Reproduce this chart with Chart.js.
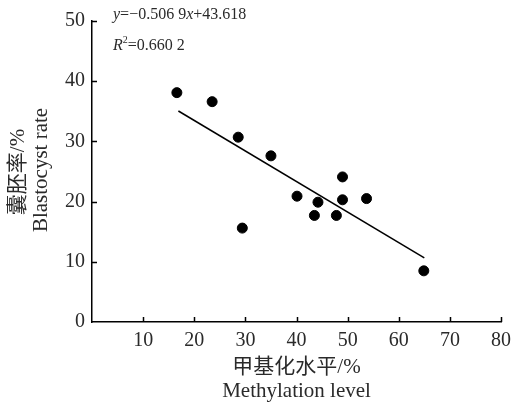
<!DOCTYPE html>
<html>
<head>
<meta charset="utf-8">
<script src="https://cdn.jsdelivr.net/npm/chart.js@4.4.1/dist/chart.umd.min.js"></script>
<style>
  html, body { margin: 0; padding: 0; background: #fff; }
  #wrap { width: 518px; height: 410px; }
</style>
</head>
<body>
<div id="wrap"><canvas id="mycanvas" width="518" height="410"></canvas></div>
<script>
// methylation level (%) vs blastocyst rate (%)
var methylation = [16.6, 23.5, 28.6, 29.4, 35.0, 40.1, 44.2, 43.5, 47.8, 49.0, 49.0, 53.7, 64.9];
var blastocyst  = [38.1, 36.6, 30.7, 15.6, 27.6, 20.9, 19.9, 17.7, 17.7, 24.1, 20.3, 20.5, 8.5];
var slope = -0.5069;
var intercept = 43.618;
var fitRange = [16.9, 65.0];
var xTicks = [10, 20, 30, 40, 50, 60, 70, 80];
var yTicks = [0, 10, 20, 30, 40, 50];

var serif = "'Liberation Serif', 'Noto Sans CJK SC', serif";

var points = [];
for (var i in methylation) {
	points.push({x: methylation[i], y: blastocyst[i]});
}
var fitLine = [
	{x: fitRange[0], y: slope * fitRange[0] + intercept},
	{x: fitRange[1], y: slope * fitRange[1] + intercept}
];

// inward tick marks, axis titles and the regression equation
var extras = {
	id: 'extras',
	afterDraw: function(chart) {
		var c = chart.ctx, a = chart.chartArea;
		var xs = chart.scales.x, ys = chart.scales.y;
		c.save();
		c.strokeStyle = '#000';
		c.lineWidth = 1.5;
		c.beginPath();
		xTicks.forEach(function(v) {
			var px = Math.round(xs.getPixelForValue(v)) + 0.5;
			c.moveTo(px, a.bottom);
			c.lineTo(px, a.bottom - 5);
		});
		yTicks.forEach(function(v) {
			if (v === 0) return;
			var py = Math.round(ys.getPixelForValue(v)) + 0.5;
			c.moveTo(a.left, py);
			c.lineTo(a.left + 5, py);
		});
		c.stroke();

		c.fillStyle = '#2a2a2a';
		c.textAlign = 'center';
		c.textBaseline = 'middle';
		var cx = (a.left + a.right) / 2;
		c.font = '21px ' + serif;
		c.fillText('甲基化水平/%', cx, 367);
		c.fillText('Methylation level', cx, 391);

		c.save();
		c.translate(18, 172);
		c.rotate(-Math.PI / 2);
		c.fillText('囊胚率/%', 0, 0);
		c.restore();
		c.save();
		c.translate(41, 170);
		c.rotate(-Math.PI / 2);
		c.fillText('Blastocyst rate', 0, 0);
		c.restore();

		// equation text, italic variables
		c.textAlign = 'left';
		c.textBaseline = 'alphabetic';
		var x0 = 113, parts = [
			['italic', 'y'], ['normal', '=\u22120.506 9'], ['italic', 'x'], ['normal', '+43.618']
		];
		parts.forEach(function(p) {
			c.font = p[0] + ' 16px ' + serif;
			c.fillText(p[1], x0, 19);
			x0 += c.measureText(p[1]).width;
		});
		x0 = 113;
		c.font = 'italic 16px ' + serif;
		c.fillText('R', x0, 50);
		x0 += c.measureText('R').width;
		c.font = '10px ' + serif;
		c.fillText('2', x0, 43);
		x0 += c.measureText('2').width;
		c.font = '16px ' + serif;
		c.fillText('=0.660 2', x0, 50);
		c.restore();
	}
};

var ctx = document.getElementById('mycanvas');

var chart = new Chart(ctx, {
	type: 'scatter',
	data: {
		datasets: [
			{
				label: 'Blastocyst rate',
				data: points,
				backgroundColor: '#000',
				borderColor: '#000',
				pointRadius: 5,
				pointHoverRadius: 5
			},
			{
				type: 'line',
				label: 'Fit',
				data: fitLine,
				borderColor: '#000',
				borderWidth: 1.5,
				pointRadius: 0,
				fill: false
			}
		]
	},
	options: {
		responsive: false,
		animation: false,
		events: [],
		layout: { padding: { top: 21, right: 11, left: 0, bottom: 0 } },
		plugins: { legend: { display: false }, tooltip: { enabled: false } },
		scales: {
			x: {
				type: 'linear',
				min: 0,
				max: 80,
				afterBuildTicks: function(s) {
					s.ticks = xTicks.map(function(v) { return {value: v}; });
				},
				afterFit: function(s) { s.height = 88; },
				grid: { display: false, drawTicks: false },
				border: { display: true, color: '#000', width: 1.5 },
				ticks: {
					padding: 7,
					color: '#2a2a2a',
					font: { family: serif, size: 20 },
					maxRotation: 0
				}
			},
			y: {
				type: 'linear',
				min: 0,
				max: 50,
				afterBuildTicks: function(s) {
					s.ticks = yTicks.map(function(v) { return {value: v}; });
				},
				afterFit: function(s) { s.width = 92; },
				grid: { display: false, drawTicks: false },
				border: { display: true, color: '#000', width: 1.5 },
				ticks: {
					padding: 7,
					color: '#2a2a2a',
					font: { family: serif, size: 20 }
				}
			}
		}
	},
	plugins: [extras]
});
</script>
</body>
</html>
